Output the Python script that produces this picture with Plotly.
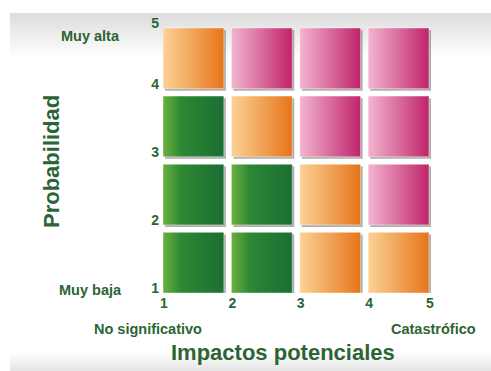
import plotly.graph_objects as go

# ---------------- data ----------------
impact_ticks = ["1", "2", "3", "4", "5"]
prob_ticks = ["1", "2", "3", "4", "5"]
impact_labels = ["No significativo", "Catastrófico"]
prob_labels = ["Muy baja", "Muy alta"]
x_title = "Impactos potenciales"
y_title = "Probabilidad"

# risk level per cell, rows from lowest probability (1-2) to highest (4-5),
# columns from lowest impact (1-2) to highest (4-5)
risk_rows = [
    ["bajo", "bajo", "medio", "medio"],
    ["bajo", "bajo", "medio", "alto"],
    ["bajo", "medio", "alto", "alto"],
    ["medio", "alto", "alto", "alto"],
]

# ---------------- styles ----------------
W, H = 491, 371
TXT = "#2c6435"
FONT = "Liberation Sans, Arial, sans-serif"
scales = {
    "bajo": [[0, "#6cb03e"], [0.3, "#2d8834"], [1, "#1b6e33"]],
    "medio": [[0, "#fbd295"], [1, "#e7741a"]],
    "alto": [[0, "#f2b5d0"], [1, "#c1236a"]],
}
S = 0.89  # square size in axis units

fig = go.Figure()

# background bands (full-figure pixel axes x / y)
bands = [
    (10, W, 13, 58, "#dcdcdc", "#ffffff"),
    (10, W, 352, H, "#ffffff", "#e4e4e4"),
]
for x0, x1, y0, y1, c0, c1 in bands:
    fig.add_trace(go.Scatter(
        x=[x0, x1, x1, x0, x0], y=[y0, y0, y1, y1, y0],
        mode="lines", fill="toself", line=dict(width=0),
        fillgradient=dict(type="vertical", colorscale=[[0, c1], [1, c0]]),
        hoverinfo="skip", showlegend=False, xaxis="x", yaxis="y"))

# squares (matrix axes x2 / y2)
for r, row in enumerate(risk_rows):
    for c, lvl in enumerate(row):
        x0, y0 = c + 1, r + 1
        x1, y1 = x0 + S, y0 + S
        # shadow
        d = 0.03
        fig.add_trace(go.Scatter(
            x=[x0 + d, x1 + d, x1 + d, x0 + d, x0 + d],
            y=[y0 - d, y0 - d, y1 - d, y1 - d, y0 - d],
            mode="lines", fill="toself", line=dict(width=0),
            fillcolor="rgba(110,110,110,0.55)",
            hoverinfo="skip", showlegend=False, xaxis="x2", yaxis="y2"))
        fig.add_trace(go.Scatter(
            x=[x0, x1, x1, x0, x0], y=[y0, y0, y1, y1, y0],
            mode="lines", fill="toself", line=dict(width=0.6, color="rgba(255,255,255,0.7)"),
            fillgradient=dict(type="horizontal", colorscale=scales[lvl]),
            hoverinfo="skip", showlegend=False, xaxis="x2", yaxis="y2"))

tickvals = [1, 2, 3, 4, 4 + S]

fig.update_layout(
    width=W, height=H,
    margin=dict(l=0, r=0, t=0, b=0),
    paper_bgcolor="white", plot_bgcolor="rgba(0,0,0,0)",
    showlegend=False,
    font=dict(family=FONT, color=TXT),
    xaxis=dict(domain=[0, 1], range=[0, W], visible=False, fixedrange=True,
               automargin=False),
    yaxis=dict(domain=[0, 1], range=[H, 0], visible=False, fixedrange=True,
               automargin=False),
    xaxis2=dict(domain=[163 / W, 436.5 / W], range=[1, 5], anchor="y2",
                showgrid=False, zeroline=False, showline=False, automargin=False,
                tickvals=tickvals, ticktext=impact_ticks, ticks="",
                tickfont=dict(size=14, family=FONT, color=TXT, weight="bold"),
                ticklabelshift=1),
    yaxis2=dict(domain=[78 / H, 350.5 / H], range=[1, 5], anchor="x2",
                showgrid=False, zeroline=False, showline=False, automargin=False,
                tickvals=tickvals, ticktext=prob_ticks, ticks="",
                tickfont=dict(size=14, family=FONT, color=TXT, weight="bold"),
                ticklabelshift=-5, ticklabelstandoff=3),
)

ann = [
    (prob_labels[1], 90, 36, 14.5, 0),
    (prob_labels[0], 90, 290, 14.5, 0),
    (impact_labels[0], 148, 329, 14.5, 0),
    (impact_labels[1], 433, 329, 14.5, 0),
    (x_title, 283, 352, 22, 0),
    (y_title, 51, 162, 22, -90),
]
for text, x, y, size, ang in ann:
    fig.add_annotation(text=text, x=x, y=y, xref="x", yref="y",
                       showarrow=False, textangle=ang,
                       font=dict(size=size, family=FONT, color=TXT, weight="bold"))

fig.write_html("out.html")
